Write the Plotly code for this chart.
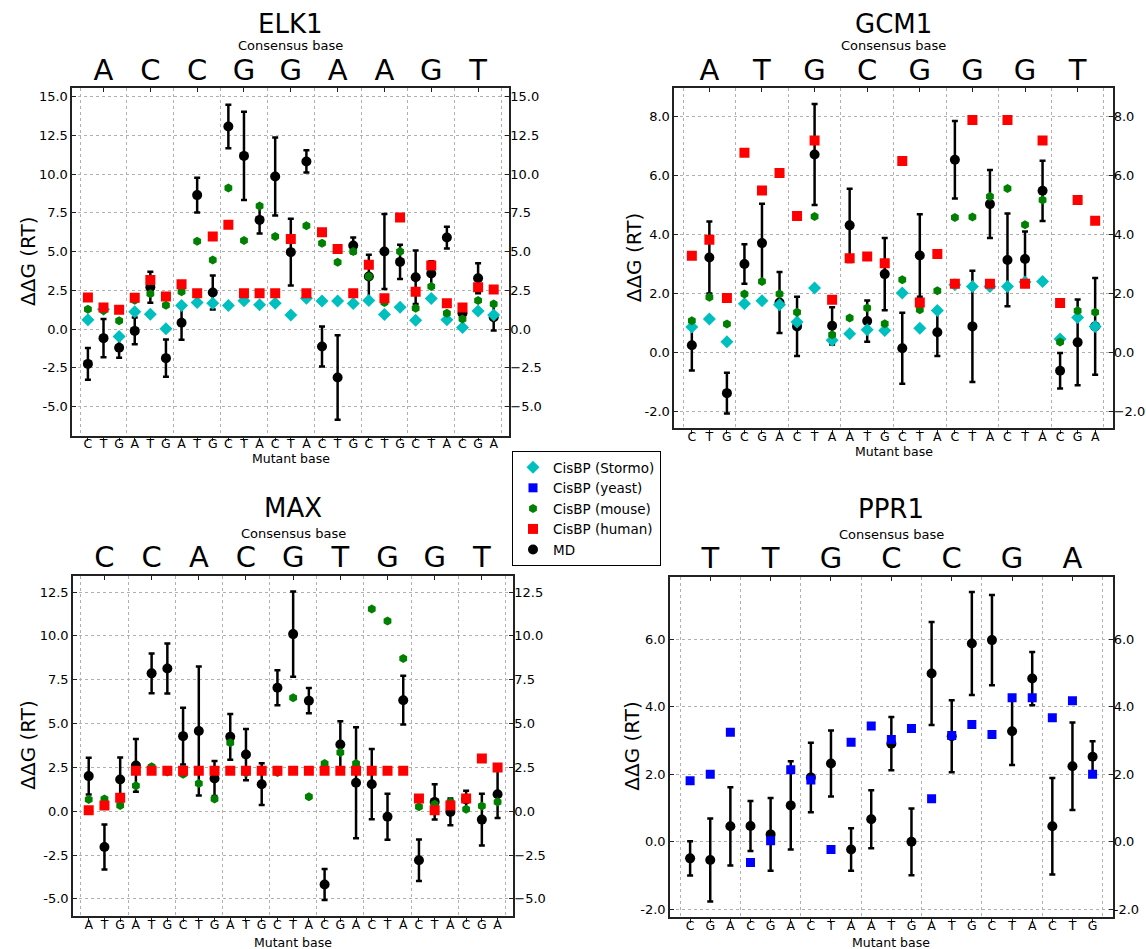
import plotly.graph_objects as go

W, H = 1146, 949

# ------------------------------------------------------------------ data
# ELK1
elk1_consensus = ["A", "C", "C", "G", "G", "A", "A", "G", "T"]
elk1_mutants = list("CTGATGATGCTACTACTGCTGCTACGA")
elk1_md = [-2.24, -0.58, -1.20, -0.11, 2.71, -1.87, 0.41, 8.65, 2.37, 13.08, 11.18, 7.05, 9.85, 4.97,
           10.82, -1.12, -3.12, 5.40, 3.40, 5.01, 4.34, 3.35, 3.59, 5.91, 1.03, 3.29, 0.77]
elk1_md_err = [1.02, 1.23, 0.65, 0.87, 1.0, 1.2, 1.1, 1.12, 1.1, 1.4, 2.85, 0.88, 2.52, 2.15,
               0.72, 1.29, 2.72, 0.52, 1.4, 2.42, 1.1, 1.72, 0.8, 0.7, 0.2, 0.97, 0.85]
elk1_stormo = [0.60, 1.29, -0.47, 1.12, 0.97, 0.02, 1.53, 1.72, 1.68, 1.53, 1.83, 1.57, 1.68, 0.92,
               2.0, 1.81, 1.81, 1.66, 1.85, 0.95, 1.42, 0.58, 1.98, 0.60, 0.11, 1.18, 0.92]
elk1_mouse = [1.29, 1.20, 0.54, 1.87, 2.28, 1.55, 2.41, 5.68, 4.47, 9.10, 5.72, 7.94, 5.98, 5.83,
              6.67, 5.55, 4.32, 5.01, 3.40, 1.72, 5.01, 1.35, 2.75, 1.03, 0.65, 1.85, 1.63]
elk1_human = [2.04, 1.40, 1.25, 2.02, 3.18, 2.11, 2.90, 2.32, 5.98, 6.73, 2.32, 2.32, 2.32, 5.81,
              2.32, 6.26, 5.18, 2.32, 4.15, 2.0, 7.20, 2.41, 4.11, 1.68, 1.40, 2.71, 2.56]
elk1_yticks = [-5.0, -2.5, 0.0, 2.5, 5.0, 7.5, 10.0, 12.5, 15.0]

# GCM1
gcm1_consensus = ["A", "T", "G", "C", "G", "G", "G", "T"]
gcm1_mutants = list("CTGCGACTAATGCTACTACTACGA")
gcm1_md = [0.24, 3.21, -1.38, 2.99, 3.70, 1.69, 0.88, 6.70, 0.90, 4.30, 1.06, 2.65, 0.14, 3.28,
           0.68, 6.52, 0.88, 5.02, 3.13, 3.16, 5.47, -0.62, 0.34, 0.88]
gcm1_md_err = [0.85, 1.22, 0.69, 0.67, 1.33, 1.03, 1.0, 1.71, 0.63, 1.24, 0.7, 1.22, 1.2, 1.4,
               0.8, 1.31, 1.88, 1.15, 1.57, 0.93, 1.02, 0.6, 1.45, 1.64]
gcm1_stormo = [0.86, 1.13, 0.36, 1.65, 1.75, 1.61, 1.03, 2.18, 0.41, 0.63, 0.77, 0.74, 2.01, 0.82,
               1.42, 2.29, 2.23, 2.23, 2.23, 2.38, 2.40, 0.45, 1.18, 0.88]
gcm1_mouse = [1.07, 1.87, 0.96, 1.98, 2.40, 1.98, 1.36, 4.60, 0.60, 1.16, 1.50, 0.97, 2.46, 1.44,
              2.09, 4.57, 4.58, 5.28, 5.55, 4.32, 5.16, 0.35, 1.41, 1.36]
gcm1_human = [3.27, 3.81, 1.84, 6.76, 5.48, 6.07, 4.62, 7.17, 1.78, 3.19, 3.25, 3.02, 6.48, 1.69,
              3.33, 2.32, 7.87, 2.32, 7.87, 2.32, 7.17, 1.67, 5.16, 4.46]
gcm1_yticks = [-2.0, 0.0, 2.0, 4.0, 6.0, 8.0]

# MAX
max_consensus = ["C", "C", "A", "C", "G", "T", "G", "G", "T"]
max_mutants = list("ATGATGCTGATGCTACGACTACTACGA")
max_md = [2.0, -2.04, 1.81, 2.61, 7.86, 8.14, 4.28, 4.57, 1.86, 4.24, 3.23, 1.54, 7.04, 10.10,
          6.30, -4.18, 3.80, 1.62, 1.54, -0.32, 6.33, -2.80, 0.53, -0.04, 0.67, -0.48, 0.97]
max_md_err = [1.05, 1.28, 1.25, 1.5, 1.14, 1.43, 1.62, 3.68, 1.0, 1.3, 1.46, 1.19, 1.0, 2.43,
              0.72, 0.88, 1.33, 3.17, 2.0, 1.31, 1.39, 1.18, 1.0, 0.76, 0.5, 1.47, 1.36]
max_mouse = [0.67, 0.70, 0.32, 1.45, 2.53, 2.24, 2.11, 1.58, 0.70, 3.90, 2.19, 2.34, 2.21, 6.47,
             0.82, 2.72, 3.35, 2.72, 11.53, 10.84, 8.71, 0.25, 0.40, 0.53, 0.11, 0.29, 0.53]
max_human = [0.06, 0.32, 0.76, 2.30, 2.30, 2.30, 2.30, 2.30, 2.30, 2.30, 2.30, 2.30, 2.30, 2.30,
             2.30, 2.30, 2.30, 2.30, 2.30, 2.30, 2.30, 0.72, 0.06, 0.32, 0.72, 3.0, 2.49]
max_yticks = [-5.0, -2.5, 0.0, 2.5, 5.0, 7.5, 10.0, 12.5]

# PPR1
ppr1_consensus = ["T", "T", "G", "C", "C", "G", "A"]
ppr1_mutants = list("CGACGACTAATGATGCTACTG")
ppr1_md = [-0.49, -0.54, 0.46, 0.47, 0.22, 1.08, 1.91, 2.32, -0.23, 0.67, 2.91, 0.0, 4.99, 3.13,
           5.88, 5.98, 3.28, 4.84, 0.46, 2.24, 2.52]
ppr1_md_err = [0.51, 1.23, 1.16, 0.74, 1.08, 1.31, 1.03, 0.98, 0.63, 0.86, 0.79, 0.99, 1.53, 1.07,
               1.53, 1.34, 1.0, 0.79, 1.43, 1.3, 0.46]
ppr1_yeast = [1.81, 2.0, 3.25, -0.61, 0.03, 2.14, 1.83, -0.23, 2.95, 3.43, 3.03, 3.36, 1.28, 3.15,
              3.48, 3.18, 4.27, 4.27, 3.68, 4.18, 2.0]
ppr1_yticks = [-2.0, 0.0, 2.0, 4.0, 6.0]

# ------------------------------------------------------------------ styles / geometry
FONT = "DejaVu Sans"
GRID = "#b0b0b0"
FRAME = "#222222"

series_style = {
    "stormo": dict(name="CisBP (Stormo)", symbol="diamond", color="#00BFBF", size=10, rank=1),
    "yeast": dict(name="CisBP (yeast)", symbol="square", color="#0000FF", size=9, rank=2),
    "mouse": dict(name="CisBP (mouse)", symbol="hexagon", color="#008000", size=9, rank=3),
    "human": dict(name="CisBP (human)", symbol="square", color="#FF0000", size=10, rank=4),
}

panels = [
    dict(title="ELK1", consensus=elk1_consensus, mutants=elk1_mutants, md=elk1_md, err=elk1_md_err,
         series={"stormo": elk1_stormo, "mouse": elk1_mouse, "human": elk1_human},
         yticks=elk1_yticks, yrange=[-6.86, 15.54],
         box=(72.3, 509.3, 88.3, 435.5), title_y=24, cons_y=46, xlab_y=458, ylab_x=28, rminus=True),
    dict(title="GCM1", consensus=gcm1_consensus, mutants=gcm1_mutants, md=gcm1_md, err=gcm1_md_err,
         series={"stormo": gcm1_stormo, "mouse": gcm1_mouse, "human": gcm1_human},
         yticks=gcm1_yticks, yrange=[-2.57, 8.94],
         box=(674.3, 1112.7, 88.3, 428.3), title_y=24, cons_y=46, xlab_y=452, ylab_x=634, rminus=True),
    dict(title="MAX", consensus=max_consensus, mutants=max_mutants, md=max_md, err=max_md_err,
         series={"mouse": max_mouse, "human": max_human},
         yticks=max_yticks, yrange=[-5.96, 13.43],
         box=(73.0, 513.3, 575.7, 915.7), title_y=508, cons_y=533, xlab_y=942, ylab_x=28, rminus=True),
    dict(title="PPR1", consensus=ppr1_consensus, mutants=ppr1_mutants, md=ppr1_md, err=ppr1_md_err,
         series={"yeast": ppr1_yeast},
         yticks=ppr1_yticks, yrange=[-2.22, 7.86],
         box=(670.0, 1112.7, 576.7, 916.7), title_y=509, cons_y=534, xlab_y=942, ylab_x=632, rminus=False),
]


def px_x(px):
    return px / W


def px_y(py):
    return 1 - py / H


fig = go.Figure()
layout = dict(width=W, height=H, margin=dict(l=0, r=0, t=0, b=0), autosize=False,
              plot_bgcolor="white", paper_bgcolor="white",
              font=dict(family=FONT, color="black"), annotations=[])
shown = set()

for k, p in enumerate(panels):
    n = len(p["mutants"])
    xb, xt = 2 * k + 1, 2 * k + 2
    xb_id = "x" if xb == 1 else f"x{xb}"
    xt_id = f"x{xt}"
    yl_id = "y" if xb == 1 else f"y{xb}"
    yr_id = f"y{xt}"
    xb_key = "xaxis" if xb == 1 else f"xaxis{xb}"
    yl_key = "yaxis" if xb == 1 else f"yaxis{xb}"
    x0, x1, y0, y1 = p["box"]
    xdom = [px_x(x0), px_x(x1)]
    ydom = [px_y(y1), px_y(y0)]
    xr = [-1, n]
    idx = list(range(n))
    centers = [3 * i + 1 for i in range(len(p["consensus"]))]
    bounds = [3 * i - 0.5 for i in range(len(p["consensus"]) + 1)]

    layout[xb_key] = dict(domain=xdom, anchor=yl_id, range=xr, tickmode="array", tickvals=idx,
                          ticktext=p["mutants"], tickfont=dict(size=12.5), ticks="outside", ticklen=4,
                          tickcolor=FRAME, showgrid=False, zeroline=False, showline=True, mirror=True,
                          linecolor=FRAME, linewidth=1.6, ticklabelstandoff=-8,
                          minor=dict(tickmode="array", tickvals=bounds, showgrid=True, gridcolor=GRID,
                                     griddash="dot", gridwidth=1, ticks=""))
    layout[f"xaxis{xt}"] = dict(overlaying=xb_id, anchor=yr_id, side="top", range=xr, tickmode="array",
                                tickvals=centers, ticktext=p["consensus"], tickfont=dict(size=29),
                                ticks="inside", ticklen=4, tickcolor=FRAME, showgrid=False,
                                zeroline=False, showline=False, ticklabelstandoff=2)
    left_txt = [f"{v:.1f}" for v in p["yticks"]]
    right_txt = [t.replace("-", "\u2212") for t in left_txt] if p["rminus"] else left_txt
    layout[yl_key] = dict(domain=ydom, anchor=xb_id, range=p["yrange"], tickmode="array",
                          tickvals=p["yticks"], ticktext=left_txt, tickfont=dict(size=13),
                          ticks="inside", ticklen=4, tickcolor=FRAME, showgrid=True, gridcolor=GRID,
                          griddash="dot", gridwidth=1, zeroline=False, showline=True, mirror=True,
                          linecolor=FRAME, linewidth=1.6)
    layout[f"yaxis{xt}"] = dict(overlaying=yl_id, anchor=xt_id, side="right", range=p["yrange"],
                                tickmode="array", tickvals=p["yticks"], ticktext=right_txt,
                                tickfont=dict(size=13), ticks="inside", ticklen=4, tickcolor=FRAME,
                                showgrid=False, zeroline=False, showline=False)

    # empty trace so the top / right companion axes get drawn
    fig.add_trace(go.Scatter(x=[None], y=[None], mode="markers", showlegend=False,
                             hoverinfo="skip", xaxis=xt_id, yaxis=yr_id))

    # MD first (drawn underneath)
    fig.add_trace(go.Scatter(
        x=idx, y=p["md"], mode="markers", name="MD", legendrank=5, legendgroup="md",
        showlegend="md" not in shown, xaxis=xb_id, yaxis=yl_id,
        marker=dict(symbol="circle", size=10, color="black"),
        error_y=dict(type="data", array=p["err"], visible=True, color="black", thickness=2.5, width=3)))
    shown.add("md")
    for key in ["stormo", "yeast", "mouse", "human"]:
        if key not in p["series"]:
            continue
        st = series_style[key]
        fig.add_trace(go.Scatter(
            x=idx, y=p["series"][key], mode="markers", name=st["name"], legendrank=st["rank"],
            legendgroup=key, showlegend=key not in shown, xaxis=xb_id, yaxis=yl_id,
            marker=dict(symbol=st["symbol"], size=st["size"], color=st["color"], line=dict(width=0))))
        shown.add(key)

    cx = (x0 + x1) / 2
    layout["annotations"] += [
        dict(text=p["title"], x=px_x(cx), y=px_y(p["title_y"]), xref="paper", yref="paper",
             showarrow=False, font=dict(size=26), xanchor="center", yanchor="middle"),
        dict(text="Consensus base", x=px_x(cx), y=px_y(p["cons_y"]), xref="paper", yref="paper",
             showarrow=False, font=dict(size=13), xanchor="center", yanchor="middle"),
        dict(text="Mutant base", x=px_x(cx), y=px_y(p["xlab_y"]), xref="paper", yref="paper",
             showarrow=False, font=dict(size=12.5), xanchor="center", yanchor="middle"),
        dict(text="\u0394\u0394G (RT)", x=px_x(p["ylab_x"]), y=px_y((y0 + y1) / 2), xref="paper",
             yref="paper", showarrow=False, font=dict(size=20), textangle=-90,
             xanchor="center", yanchor="middle"),
    ]

layout["legend"] = dict(x=px_x(512), y=px_y(451), xanchor="left", yanchor="top",
                        bordercolor="black", borderwidth=1, bgcolor="white",
                        font=dict(size=13.5), itemwidth=30, tracegroupgap=0, traceorder="normal")
layout["showlegend"] = True
fig.update_layout(**layout)
fig.write_html("out.html", config={"displayModeBar": False},
               post_script="document.body.style.margin='0px';")
